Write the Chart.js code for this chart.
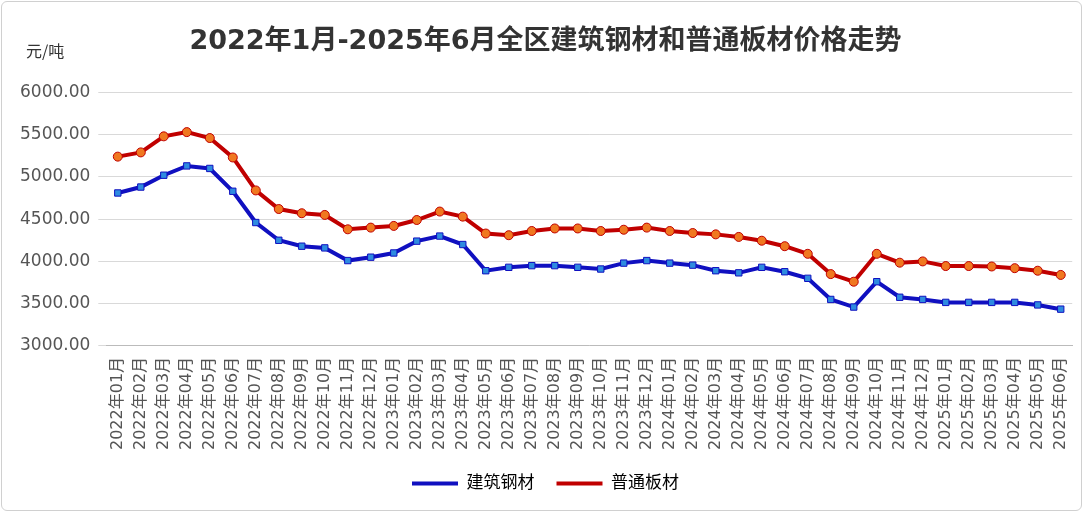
<!DOCTYPE html>
<html><head><meta charset="utf-8">
<script src="https://cdn.jsdelivr.net/npm/chart.js@4"></script>
<style>
html,body{margin:0;padding:0;background:#fff;}
#wrap{position:absolute;left:1px;top:1px;width:1081px;height:510px;border:1px solid #d0d0d0;border-radius:6px;box-sizing:border-box;}
#unit{position:absolute;left:26px;top:38px;font:16px "Noto Sans CJK SC";color:#333;}
canvas{position:absolute;left:0;top:0;}
</style></head><body>
<div id="wrap"><canvas id="c" width="1081" height="510"></canvas></div>
<div id="unit">元/吨</div>
<script>
const categories=[];
for(let y=2022;y<=2025;y++){for(let m=1;m<=12;m++){if(y===2025&&m>6)break;categories.push(y+'年'+String(m).padStart(2,'0')+'月');}}
const steelValues=[4810,4880,5020,5130,5100,4830,4460,4250,4180,4160,4010,4050,4100,4240,4300,4200,3890,3930,3950,3950,3930,3910,3980,4010,3980,3956,3890,3865,3930,3878,3800,3550,3460,3760,3576,3550,3515,3515,3515,3515,3485,3435];
const plateValues=[5240,5290,5480,5530,5460,5230,4840,4620,4570,4550,4380,4400,4420,4490,4590,4530,4330,4310,4360,4390,4390,4360,4375,4400,4360,4336,4320,4290,4245,4180,4090,3850,3760,4090,3985,4000,3945,3945,3940,3920,3890,3840];
const seriesNames=['建筑钢材','普通板材'];
const F='"DejaVu Sans","Noto Sans CJK SC",sans-serif';
new Chart(document.getElementById('c'),{type:'line',
data:{labels:categories,datasets:[
{label:seriesNames[0],data:steelValues,borderColor:'#1010C0',backgroundColor:'#2E8BE0',borderWidth:4,pointStyle:'rect',pointRadius:4.5,pointBorderColor:'#1010C0',pointBorderWidth:1,pointBackgroundColor:'#2E8BE0',tension:0},
{label:seriesNames[1],data:plateValues,borderColor:'#C00000',backgroundColor:'#F07820',borderWidth:4,pointStyle:'circle',pointRadius:4.5,pointBorderColor:'#C00000',pointBorderWidth:1,pointBackgroundColor:'#F07820',tension:0}]},
options:{responsive:false,animation:false,
layout:{padding:{left:10,right:4,top:10,bottom:10}},
plugins:{title:{display:true,text:'2022年1月-2025年6月全区建筑钢材和普通板材价格走势',font:{family:F,size:27,weight:'bold'},color:'#333',padding:{top:14,bottom:34}},
legend:{position:'bottom',labels:{font:{family:F,size:17},color:'#444',boxWidth:46,boxHeight:4,padding:22,
generateLabels(ch){return ch.data.datasets.map((d,i)=>({text:d.label,fillStyle:d.borderColor,strokeStyle:d.borderColor,lineWidth:0,datasetIndex:i}));}}},
tooltip:{enabled:false}},
scales:{x:{offset:true,grid:{display:false},border:{color:'#bbb'},ticks:{autoSkip:false,maxRotation:90,minRotation:90,font:{family:F,size:16},color:'#555'}},
y:{min:3000,max:6000,ticks:{stepSize:500,callback:v=>v.toFixed(2),font:{family:F,size:17},color:'#555',padding:8},grid:{color:'#d9d9d9'},border:{display:false}}}}});
</script></body></html>
